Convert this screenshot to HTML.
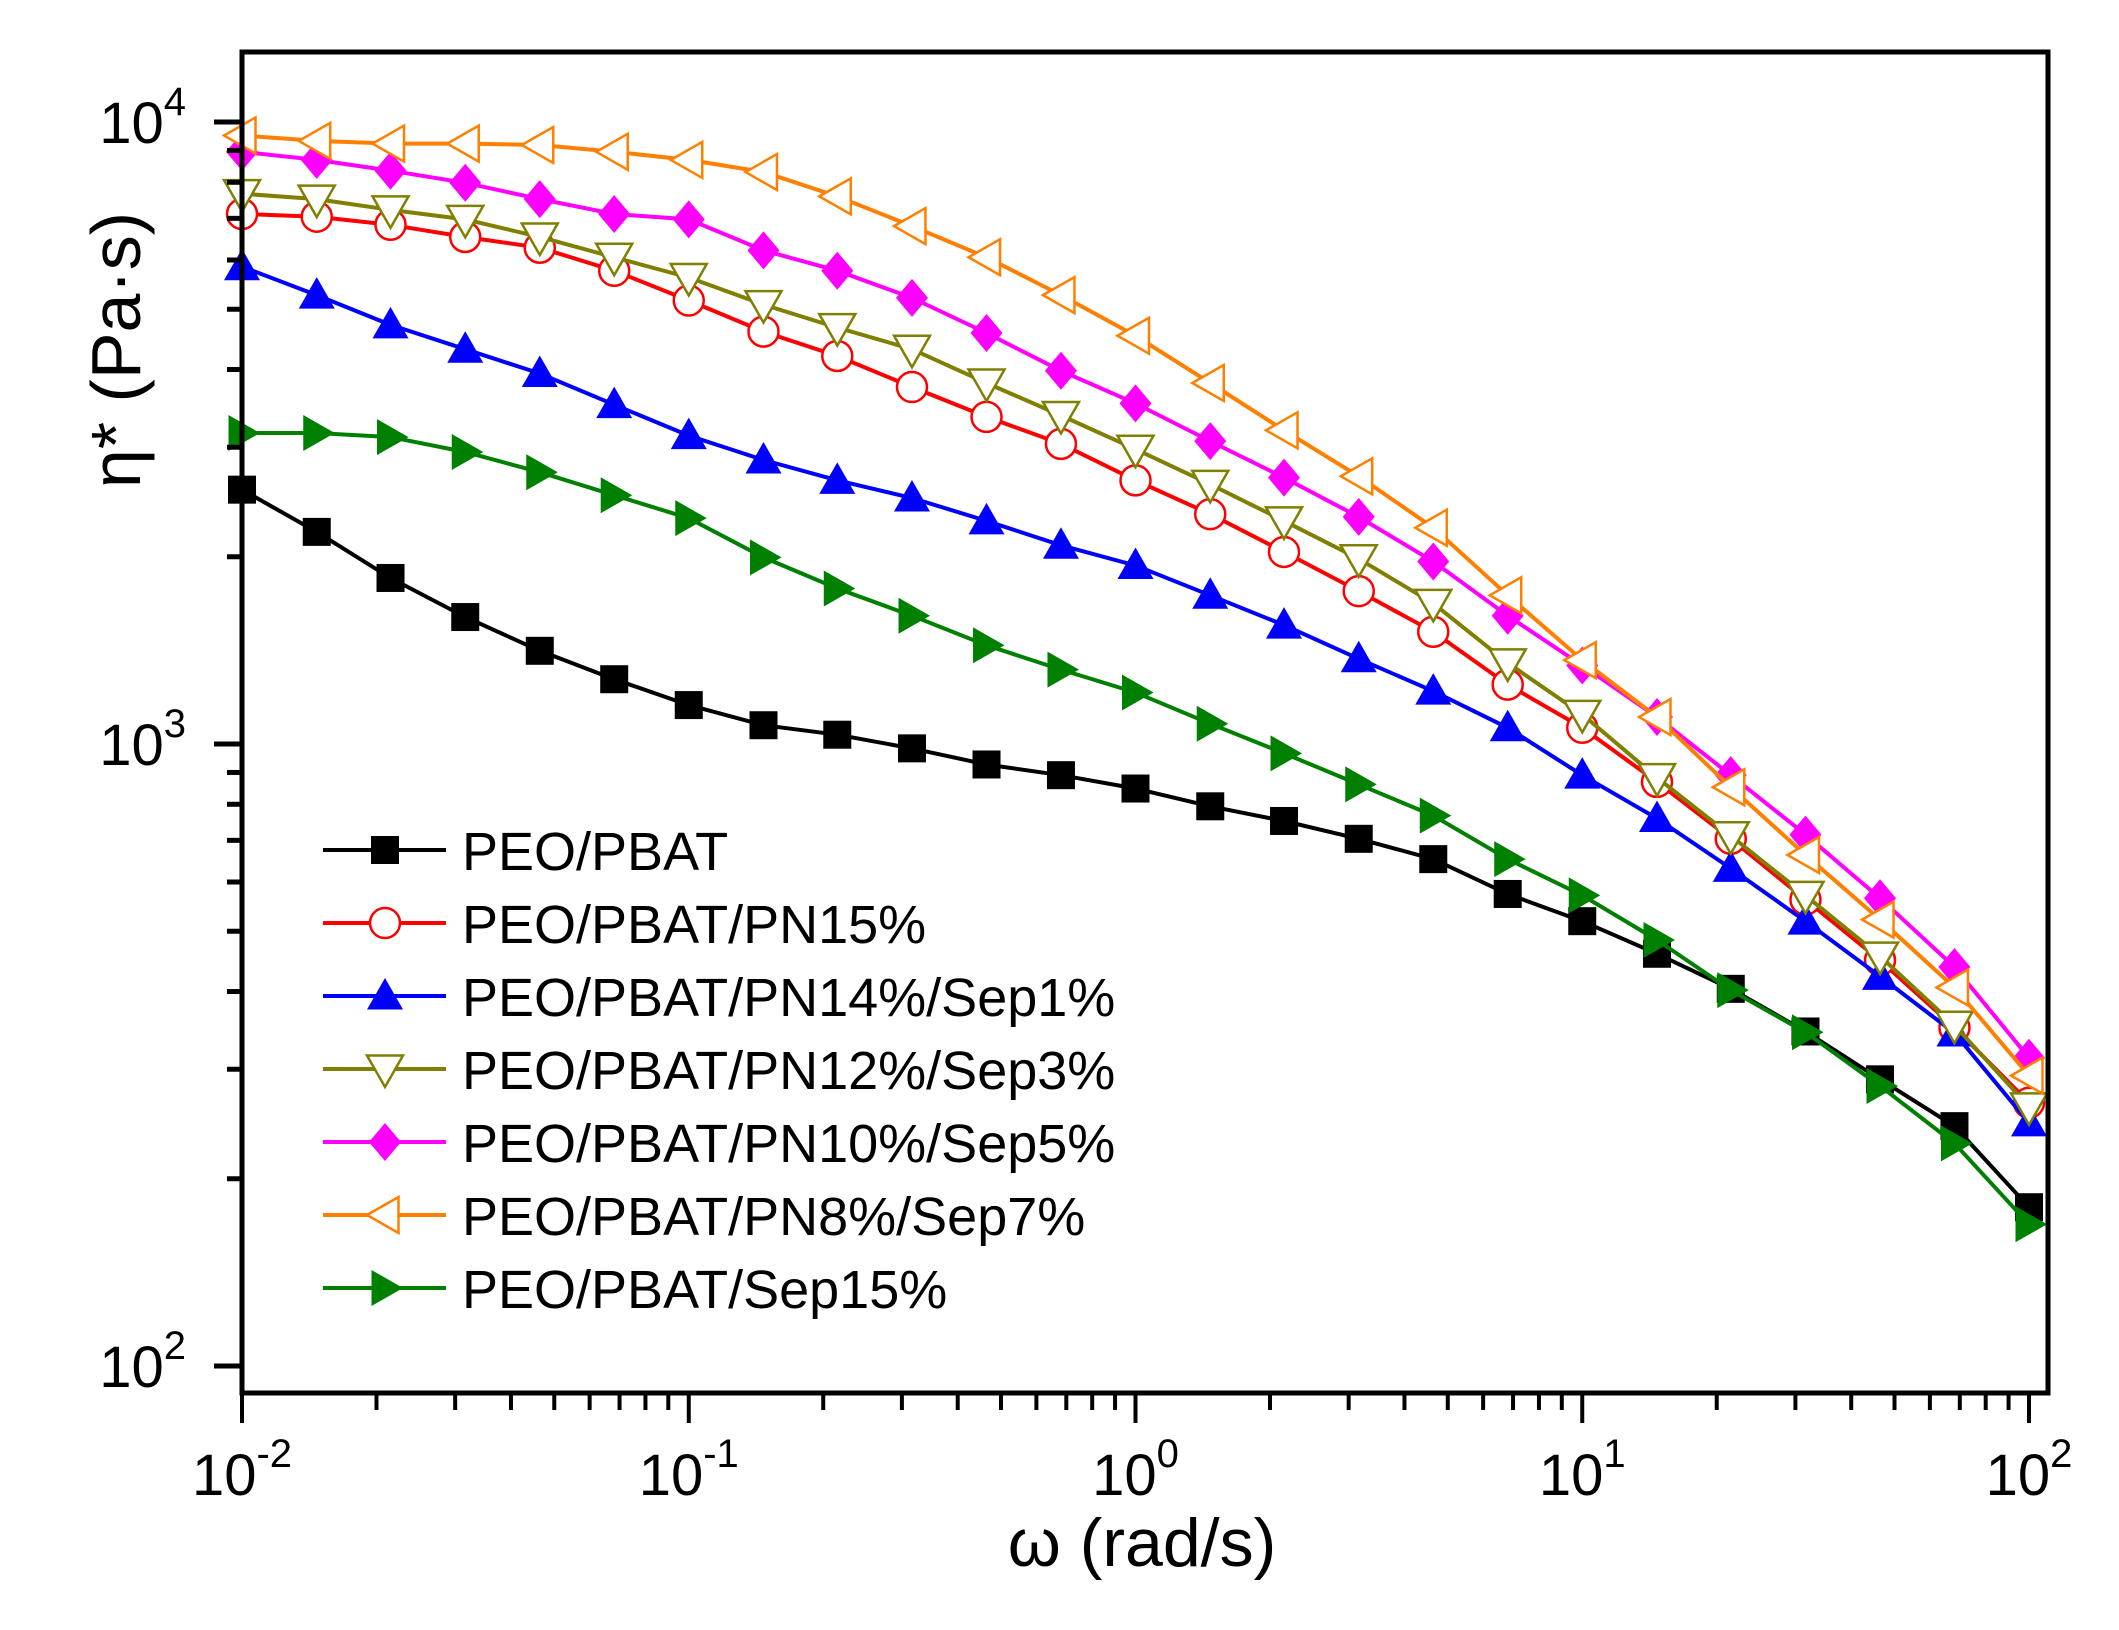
<!DOCTYPE html>
<html><head><meta charset="utf-8">
<style>
html,body{margin:0;padding:0;background:#fff;}
svg{display:block;font-family:"Liberation Sans",Arial,sans-serif;}
</style></head>
<body>
<svg id="chart" width="2119" height="1630" viewBox="0 0 2119 1630" xmlns="http://www.w3.org/2000/svg">
<rect x="0" y="0" width="2119" height="1630" fill="#fff"/>
<g id="series"></g>
<g id="axes"></g>
<g id="legend"></g>
<text x="1142" y="1566" font-size="68" text-anchor="middle">ω (rad/s)</text>
<text transform="translate(140,350) rotate(-90)" font-size="70" text-anchor="middle">η* (Pa·s)</text>
</svg>
<script>
const freqs = [0.01,0.0147,0.0215,0.0316,0.0464,0.0681,0.1,0.147,0.215,0.316,0.464,0.681,1,1.47,2.15,3.16,4.64,6.81,10,14.7,21.5,31.6,46.4,68.1,100];
const seriesNames = ["PEO/PBAT","PEO/PBAT/PN15%","PEO/PBAT/PN14%/Sep1%","PEO/PBAT/PN12%/Sep3%","PEO/PBAT/PN10%/Sep5%","PEO/PBAT/PN8%/Sep7%","PEO/PBAT/Sep15%"];
const etaPEOPBAT = [2564,2193,1849,1600,1412,1271,1155,1072,1035,984,927,891,848,794,752,704,653,574,519,460,404,345,289,243,180];
const etaPN15 = [7114,7043,6836,6534,6279,5766,5164,4603,4206,3749,3357,3038,2654,2342,2036,1761,1515,1246,1062,869,704,562,449,350,265];
const etaPN14Sep1 = [5853,5268,4719,4312,3941,3512,3132,2861,2654,2486,2284,2087,1936,1734,1553,1371,1216,1062,891,759,631,519,423,343,246];
const etaPN12Sep3 = [7670,7518,7222,6973,6534,6061,5623,5087,4672,4312,3805,3374,2978,2615,2284,1985,1683,1350,1116,883,712,571,456,353,261];
const etaPN10Sep5 = [8956,8691,8350,7985,7518,7114,6973,6217,5766,5216,4579,3981,3529,3069,2681,2318,1965,1608,1337,1105,891,715,565,438,313];
const etaPN8Sep7 = [9512,9323,9231,9231,9184,8956,8691,8309,7593,6801,6061,5268,4533,3805,3194,2694,2227,1734,1364,1105,852,663,522,406,293];
const etaSep15 = [3162,3162,3115,2948,2735,2512,2307,1995,1778,1608,1441,1317,1210,1078,966,861,767,653,571,484,402,344,282,228,169];
const xTickLabels = ["-2","-1","0","1","2"];
const yTickLabels = ["2","3","4"];

const NS="http://www.w3.org/2000/svg";
const L=242,R=2048,T=52,B=1393;
const X0=242, XDEC=446.75, Y4=122, YDEC=622;
function xs(v){return X0+(Math.log10(v)+2)*XDEC;}
function ys(v){return Y4+(4-Math.log10(v))*YDEC;}
function el(tag,attrs,parent){const e=document.createElementNS(NS,tag);for(const k in attrs)e.setAttribute(k,attrs[k]);parent.appendChild(e);return e;}

const styles=[
 {c:"#000000",m:"square",fill:"#000000"},
 {c:"#ff0000",m:"circle",fill:"#ffffff"},
 {c:"#0000ff",m:"up",fill:"#0000ff"},
 {c:"#808000",m:"down",fill:"#ffffff"},
 {c:"#ff00ff",m:"diamond",fill:"#ff00ff"},
 {c:"#ff8000",m:"left",fill:"#ffffff"},
 {c:"#008000",m:"right",fill:"#008000"}
];
const allData=[etaPEOPBAT,etaPN15,etaPN14Sep1,etaPN12Sep3,etaPN10Sep5,etaPN8Sep7,etaSep15];
const slugs=["peo-pbat","pn15","pn14-sep1","pn12-sep3","pn10-sep5","pn8-sep7","sep15"];

function marker(g,type,cx,cy,st){
 const sw=2.5; let e;
 if(type==="square") e=el("rect",{x:cx-14,y:cy-14,width:28,height:28,fill:st.fill},g);
 else if(type==="circle") e=el("circle",{cx:cx,cy:cy,r:15,fill:st.fill,stroke:st.c,"stroke-width":sw},g);
 else {
  let p;const s=18;
  if(type==="up") p=[[cx,cy-s],[cx+s,cy+s*0.75],[cx-s,cy+s*0.75]];
  else if(type==="down") p=[[cx,cy+s],[cx+s,cy-s*0.75],[cx-s,cy-s*0.75]];
  else if(type==="left") p=[[cx-s,cy],[cx+s*0.75,cy-s],[cx+s*0.75,cy+s]];
  else if(type==="right") p=[[cx+s,cy],[cx-s*0.75,cy-s],[cx-s*0.75,cy+s]];
  else p=[[cx,cy-19],[cx+16,cy],[cx,cy+19],[cx-16,cy]];
  const filled=st.fill!=="#ffffff";
  e=el("polygon",{points:p.map(q=>q.join(",")).join(" "),fill:st.fill,stroke:filled?"none":st.c,"stroke-width":sw},g);
 }
 return e;
}

const sg=document.getElementById("series");
allData.forEach((data,i)=>{
 const st=styles[i];
 const g=el("g",{},sg);
 
 
 const pts=data.map((v,j)=>xs(freqs[j]).toFixed(1)+","+ys(v).toFixed(1)).join(" ");
 const line=el("polyline",{points:pts,fill:"none",stroke:st.c,"stroke-width":4},g);
 
 
 data.forEach((v,j)=>{
  const m=marker(g,st.m,xs(freqs[j]),ys(v),st);
  
  
 });
});

const ag=document.getElementById("axes");
const frame=el("rect",{x:L,y:T,width:R-L,height:B-T,fill:"none",stroke:"#000","stroke-width":5},ag);


for(let d=-2;d<=2;d++){
 for(let k=1;k<=9;k++){
  if(d===2&&k>1)break;
  const v=k*Math.pow(10,d);const x=xs(v);
  const len=k===1?30:17;
  const t=el("line",{x1:x,y1:B,x2:x,y2:B+len,stroke:"#000","stroke-width":4},ag);
  
  
 }
}
xTickLabels.forEach((lab,i)=>{
 const x=xs(Math.pow(10,parseInt(lab)));
 const t=el("text",{x:x,y:1495,"font-size":58,"text-anchor":"middle"},ag);
 
 
 t.textContent="10";
 const s=el("tspan",{dy:-28,"font-size":40},t);s.textContent=lab;
});
for(let d=2;d<=4;d++){
 for(let k=1;k<=9;k++){
  if(d===4&&k>1)break;
  const v=k*Math.pow(10,d);const y=ys(v);
  if(y<T||y>B)continue;
  const len=k===1?28:15;
  const t=el("line",{x1:L-len,y1:y,x2:L,y2:y,stroke:"#000","stroke-width":5},ag);
  
  
 }
}
yTickLabels.forEach(lab=>{
 const y=ys(Math.pow(10,parseInt(lab)));
 const t=el("text",{x:186,y:y+21,"font-size":58,"text-anchor":"end"},ag);
 
 
 t.textContent="10";
 const s=el("tspan",{dy:-28,"font-size":40},t);s.textContent=lab;
});

const lg=document.getElementById("legend");
seriesNames.forEach((name,i)=>{
 const y=850+i*73;const st=styles[i];
 const g=el("g",{},lg);
 
 
 el("line",{x1:323,y1:y,x2:446,y2:y,stroke:st.c,"stroke-width":4},g);
 marker(g,st.m,385,y,st);
 const t=el("text",{x:462,y:y+20,"font-size":54,textLength:null},g);
 t.removeAttribute("textLength");
 t.textContent=name;
});
</script>
</body></html>
